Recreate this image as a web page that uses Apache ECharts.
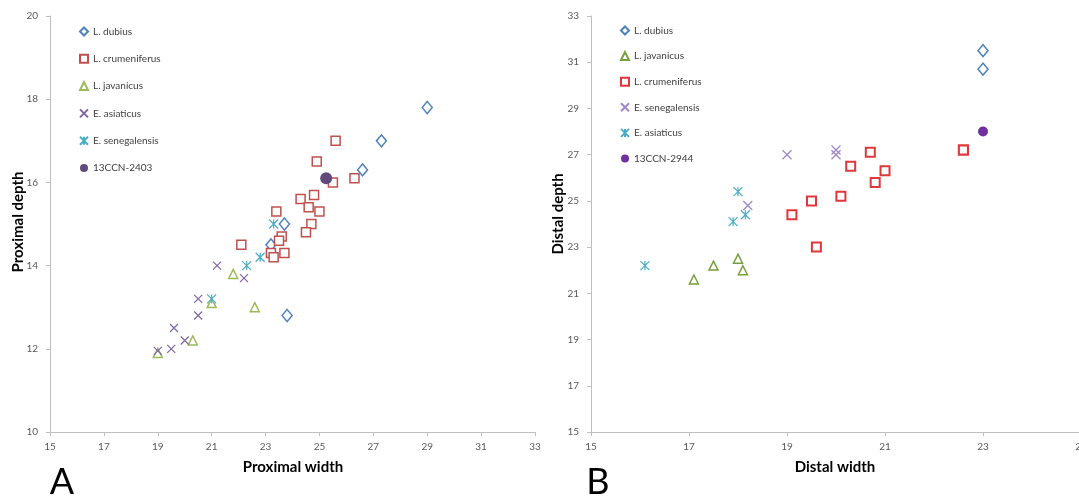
<!DOCTYPE html>
<html>
<head>
<meta charset="utf-8">
<script src="https://cdn.jsdelivr.net/npm/echarts@6/dist/echarts.min.js"></script>
<style>
html,body{margin:0;padding:0;background:#fff;width:1079px;height:498px;overflow:hidden;}
#a{position:absolute;left:0;top:0;width:540px;height:498px;}
#b{position:absolute;left:540px;top:0;width:539px;height:498px;}
</style>
</head>
<body>
<div id="a"></div>
<div id="b"></div>
<script>
// ---------- Panel A : proximal width vs proximal depth ----------
const A_xTicks = [15, 17, 19, 21, 23, 25, 27, 29, 31, 33];
const A_yTicks = [10, 12, 14, 16, 18, 20];
const A_dubius = [[29.0,17.8],[27.3,17.0],[26.6,16.3],[23.7,15.0],[23.2,14.5],[23.8,12.8]];
const A_crumeniferus = [[25.6,17.0],[24.9,16.5],[25.5,16.0],[26.3,16.1],[24.8,15.7],[24.3,15.6],[24.6,15.4],[25.0,15.3],[23.4,15.3],[24.7,15.0],[24.5,14.8],[23.6,14.7],[23.5,14.6],[22.1,14.5],[23.2,14.3],[23.7,14.3],[23.3,14.2]];
const A_javanicus = [[21.8,13.8],[21.0,13.1],[22.6,13.0],[20.3,12.2],[19.0,11.9]];
const A_asiaticus = [[21.2,14.0],[22.2,13.7],[20.5,13.2],[20.5,12.8],[19.6,12.5],[20.0,12.2],[19.5,12.0],[19.0,11.95]];
const A_senegalensis = [[23.3,15.0],[22.8,14.2],[22.3,14.0],[21.0,13.2]];
const A_specimen = [[25.25,16.1]];

// ---------- Panel B : distal width vs distal depth ----------
const B_xTicks = [15, 17, 19, 21, 23, 25];
const B_yTicks = [15, 17, 19, 21, 23, 25, 27, 29, 31, 33];
const B_dubius = [[23.0,31.5],[23.0,30.7]];
const B_javanicus = [[17.5,22.2],[18.0,22.5],[18.1,22.0],[17.1,21.6]];
const B_crumeniferus = [[22.6,27.2],[22.6,27.2],[20.7,27.1],[20.3,26.5],[21.0,26.3],[20.8,25.8],[20.1,25.2],[19.5,25.0],[19.1,24.4],[19.6,23.0]];
const B_senegalensis = [[19.0,27.0],[20.0,27.2],[20.0,27.0],[18.2,24.8]];
const B_asiaticus = [[18.0,25.4],[18.15,24.4],[17.9,24.1],[16.1,22.2]];
const B_specimen = [[23.0,28.0]];

const FONT = 'Lato, "Open Sans", "Liberation Sans", sans-serif';
const X_PATH = 'path://M0,0L10,10M10,0L0,10';
const STAR_PATH = 'path://M0,0L10,10M10,0L0,10M5,0L5,10';

function axisCommon(){
  return {
    axisLine:{show:true,onZero:false,lineStyle:{color:'#bfbfbf',width:1}},
    axisTick:{show:true,inside:false,length:4,lineStyle:{color:'#bfbfbf'}},
    splitLine:{show:false},
    axisLabel:{color:'#595959',fontSize:10,fontFamily:FONT},
  };
}

function hollow(name, data, symbol, size, color, bw){
  return {name, type:'scatter', data, symbol, symbolSize:size,
    itemStyle:{color:'#ffffff',borderColor:color,borderWidth:bw,opacity:1},
    emphasis:{disabled:true}};
}
function stroke(name, data, symbol, size, color, bw){
  return {name, type:'scatter', data, symbol, symbolSize:size,
    itemStyle:{color:'rgba(0,0,0,0)',borderColor:color,borderWidth:bw,opacity:1},
    emphasis:{disabled:true}};
}
function filled(name, data, size, color){
  return {name, type:'scatter', data, symbol:'circle', symbolSize:size,
    itemStyle:{color:color,borderWidth:0,opacity:1}, emphasis:{disabled:true}};
}

function build(cfg){
  const xa = Object.assign(axisCommon(), {type:'value', min:cfg.xTicks[0], max:cfg.xTicks[cfg.xTicks.length-1], interval:2});
  xa.axisLabel = Object.assign({}, xa.axisLabel, {margin:10});
  const ya = Object.assign(axisCommon(), {type:'value', min:cfg.yTicks[0], max:cfg.yTicks[cfg.yTicks.length-1], interval:2});
  ya.axisLabel = Object.assign({}, ya.axisLabel, {margin:12});
  return {
    animation:false,
    backgroundColor:'#ffffff',
    grid:cfg.grid,
    xAxis:xa,
    yAxis:ya,
    legend:{
      orient:'vertical', left:cfg.legendLeft, top:cfg.legendTop, padding:0,
      itemGap:cfg.legendGap, itemWidth:8, itemHeight:8,
      textStyle:{color:'#404040',fontSize:10,fontFamily:FONT,lineHeight:12},
      data:cfg.legendNames, selectedMode:false
    },
    series:cfg.series,
    graphic:[
      {type:'text', x:cfg.xTitleX, y:467, style:{text:cfg.xTitle, font:'bold 15px '+FONT, fill:'#000', align:'center', verticalAlign:'middle'}},
      {type:'text', x:cfg.yTitleX, y:cfg.yTitleY, rotation:Math.PI/2, style:{text:cfg.yTitle, font:'bold 15px '+FONT, fill:'#000', align:'center', verticalAlign:'middle'}},
      {type:'text', x:cfg.letterX, y:482, style:{text:cfg.letter, font:'36px '+FONT, fill:'#000', align:'center', verticalAlign:'middle'}}
    ]
  };
}

const chartA = echarts.init(document.getElementById('a'), null, {renderer:'canvas'});
chartA.setOption(build({
  xTicks:A_xTicks, yTicks:A_yTicks,
  grid:{left:50,right:5,top:16,bottom:66,containLabel:false,outerBoundsMode:'none'},
  legendLeft:79, legendTop:25.5, legendGap:15.3,
  legendNames:['L. dubius','L. crumeniferus','L. javanicus','E. asiaticus','E. senegalensis','13CCN-2403'],
  xTitle:'Proximal width', xTitleX:293, yTitle:'Proximal depth', yTitleX:18, yTitleY:222,
  letter:'A', letterX:62,
  series:[
    hollow('L. dubius', A_dubius, 'diamond', [10,12], '#4f81bd', 1.5),
    hollow('L. crumeniferus', A_crumeniferus, 'rect', 9, '#c0504d', 1.5),
    hollow('L. javanicus', A_javanicus, 'triangle', 9, '#9bbb59', 1.5),
    stroke('E. asiaticus', A_asiaticus, X_PATH, 8, '#8064a2', 1.2),
    stroke('E. senegalensis', A_senegalensis, STAR_PATH, 9, '#4bacc6', 1.2),
    filled('13CCN-2403', A_specimen, 12, '#604a7b')
  ]
}));

const chartB = echarts.init(document.getElementById('b'), null, {renderer:'canvas'});
chartB.setOption(build({
  xTicks:B_xTicks, yTicks:B_yTicks,
  grid:{left:51,right:-2,top:16,bottom:66,containLabel:false,outerBoundsMode:'none'},
  legendLeft:80, legendTop:24.5, legendGap:13.6,
  legendNames:['L. dubius','L. javanicus','L. crumeniferus','E. senegalensis','E. asiaticus','13CCN-2944'],
  xTitle:'Distal width', xTitleX:295, yTitle:'Distal depth', yTitleX:18, yTitleY:214,
  letter:'B', letterX:58,
  series:[
    hollow('L. dubius', B_dubius, 'diamond', [10,12], '#4f81bd', 1.5),
    hollow('L. javanicus', B_javanicus, 'triangle', 9, '#77a03c', 1.5),
    hollow('L. crumeniferus', B_crumeniferus, 'rect', 9, '#e0383a', 2),
    stroke('E. senegalensis', B_senegalensis, X_PATH, 9, '#9f88c4', 1.3),
    stroke('E. asiaticus', B_asiaticus, STAR_PATH, 9, '#4bacc6', 1.2),
    filled('13CCN-2944', B_specimen, 10, '#7030a0')
  ]
}));
</script>
</body>
</html>
